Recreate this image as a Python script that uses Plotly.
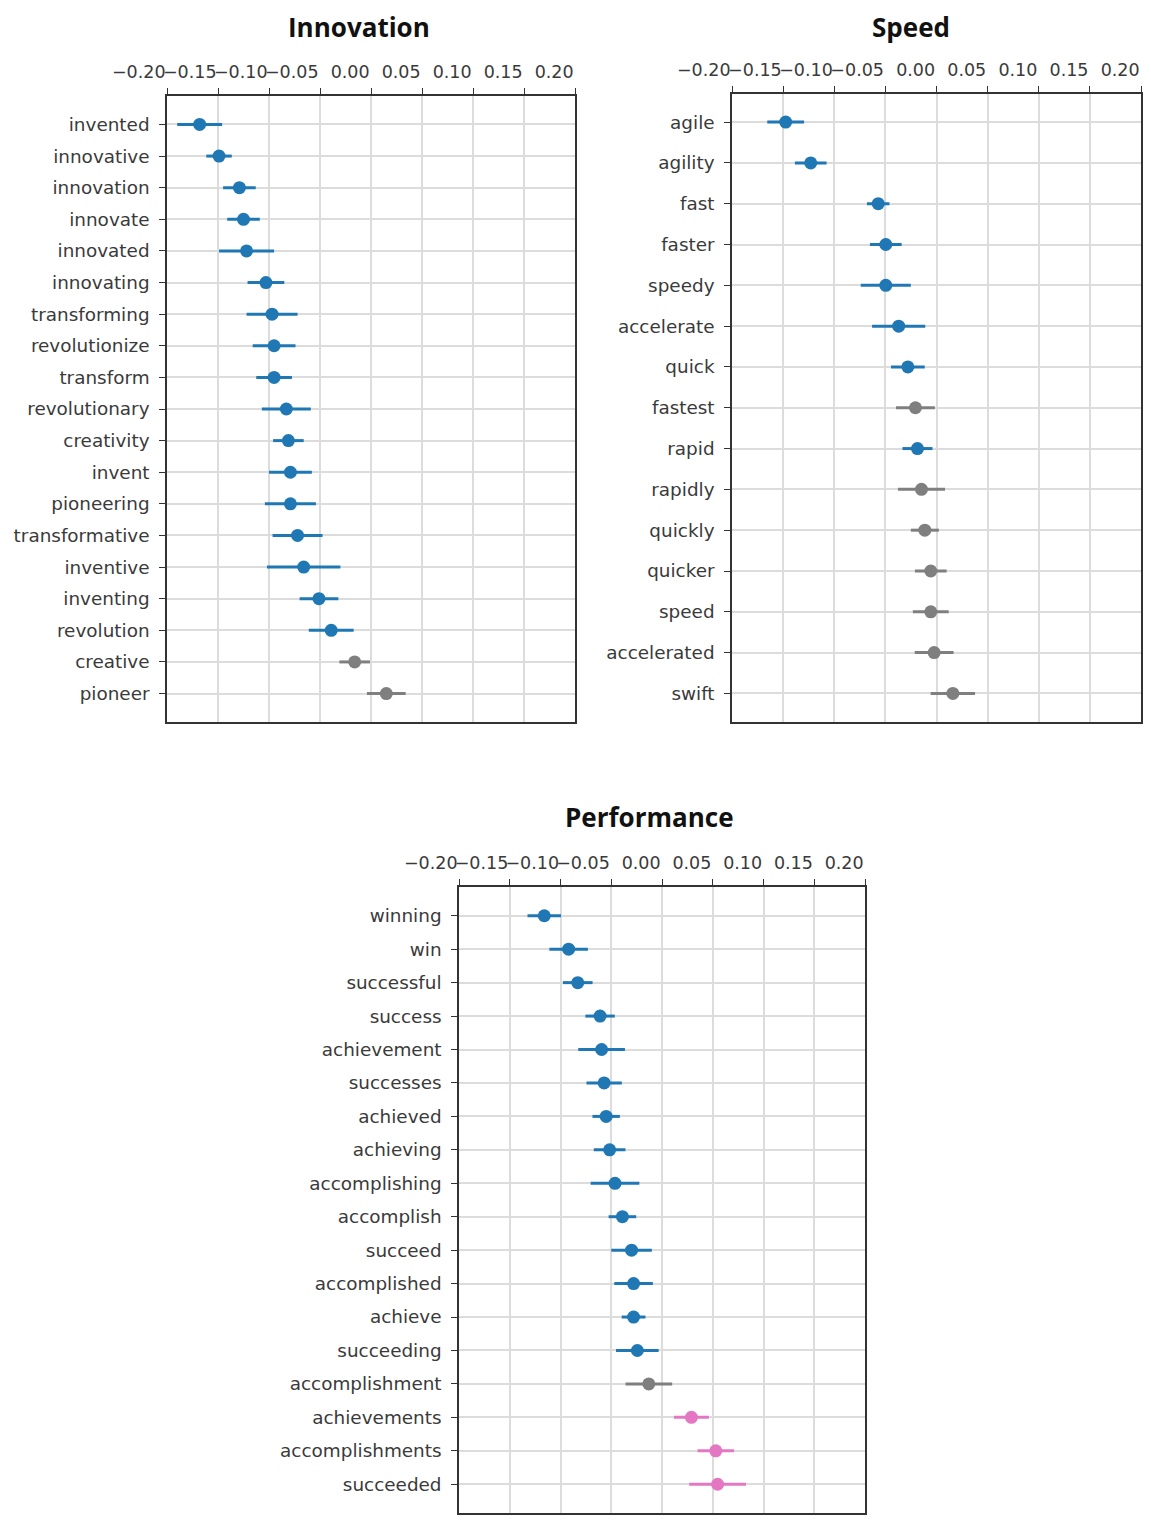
import plotly.graph_objects as go

# ---- data -------------------------------------------------------------
innovation_words = ["invented", "innovative", "innovation", "innovate", "innovated",
                    "innovating", "transforming", "revolutionize", "transform",
                    "revolutionary", "creativity", "invent", "pioneering",
                    "transformative", "inventive", "inventing", "revolution",
                    "creative", "pioneer"]
innovation_mean = [-0.168, -0.149, -0.129, -0.125, -0.122, -0.103, -0.097, -0.095,
                   -0.095, -0.083, -0.081, -0.079, -0.079, -0.072, -0.066, -0.051,
                   -0.039, -0.016, 0.015]
innovation_err = [0.022, 0.0125, 0.016, 0.016, 0.027, 0.018, 0.025, 0.021, 0.0175,
                  0.024, 0.015, 0.021, 0.025, 0.0245, 0.036, 0.019, 0.022, 0.015,
                  0.019]
innovation_sig = ["neg"] * 17 + ["ns"] * 2

speed_words = ["agile", "agility", "fast", "faster", "speedy", "accelerate", "quick",
               "fastest", "rapid", "rapidly", "quickly", "quicker", "speed",
               "accelerated", "swift"]
speed_mean = [-0.1475, -0.123, -0.057, -0.0496, -0.0496, -0.037, -0.028, -0.0206,
              -0.0186, -0.0147, -0.0114, -0.0056, -0.0056, -0.0023, 0.016]
speed_err = [0.018, 0.0155, 0.011, 0.0155, 0.0245, 0.026, 0.0165, 0.019, 0.0147,
             0.023, 0.0137, 0.0155, 0.0175, 0.019, 0.0217]
speed_sig = ["neg"] * 7 + ["ns", "neg"] + ["ns"] * 6

performance_words = ["winning", "win", "successful", "success", "achievement",
                     "successes", "achieved", "achieving", "accomplishing",
                     "accomplish", "succeed", "accomplished", "achieve",
                     "succeeding", "accomplishment", "achievements",
                     "accomplishments", "succeeded"]
performance_mean = [-0.116, -0.092, -0.083, -0.061, -0.0595, -0.057, -0.055, -0.0516,
                    -0.0463, -0.039, -0.030, -0.028, -0.028, -0.0243, -0.013, 0.029,
                    0.053, 0.0548]
performance_err = [0.0165, 0.019, 0.0146, 0.0145, 0.023, 0.0174, 0.0135, 0.0156,
                   0.024, 0.0136, 0.020, 0.019, 0.0117, 0.021, 0.023, 0.0172, 0.018,
                   0.028]
performance_sig = ["neg"] * 14 + ["ns"] + ["pos"] * 3

x_tickvals = [-0.20, -0.15, -0.10, -0.05, 0.00, 0.05, 0.10, 0.15, 0.20]

SIG_COLORS = {"neg": "#1f77b4", "ns": "#7f7f7f", "pos": "#e377c2"}

W, H = 1151, 1522

# panel boxes in pixels: (left, right, top, bottom), vertical row padding,
# and title centre (x, y) in pixels
panels = [
    ("Innovation", innovation_words, innovation_mean, innovation_err, innovation_sig,
     (167, 575, 96, 722), 0.9, (359, 27)),
    ("Speed", speed_words, speed_mean, speed_err, speed_sig,
     (732, 1141, 93.5, 722), 0.7, (911, 27)),
    ("Performance", performance_words, performance_mean, performance_err, performance_sig,
     (459, 865, 887, 1513), 0.86, (649, 817)),
]

TEXT = "#3a3a3a"
fig = go.Figure()
annotations = []

for i, (title, words, mean, err, sig, box, pad, tpos) in enumerate(panels, start=1):
    left, right, top, bottom = box
    xa = "x" if i == 1 else f"x{i}"
    ya = "y" if i == 1 else f"y{i}"
    for grp in ["neg", "ns", "pos"]:
        idx = [k for k, s in enumerate(sig) if s == grp]
        if not idx:
            continue
        fig.add_trace(go.Scatter(
            x=[mean[k] for k in idx],
            y=[k for k in idx],
            mode="markers",
            marker=dict(size=13, color=SIG_COLORS[grp]),
            error_x=dict(type="data", array=[err[k] for k in idx],
                         color=SIG_COLORS[grp], thickness=3, width=0),
            xaxis=xa, yaxis=ya, showlegend=False, hoverinfo="skip",
        ))
    n = len(words)
    axis_common = dict(showline=True, mirror=True, linecolor="#333333", linewidth=1.5,
                       showgrid=True, gridcolor="#dcdcdc", gridwidth=2,
                       zeroline=False, ticks="outside", ticklen=6, tickwidth=1.3,
                       tickcolor="#333333", automargin=False)
    xkey = "xaxis" if i == 1 else f"xaxis{i}"
    ykey = "yaxis" if i == 1 else f"yaxis{i}"
    fig.update_layout({
        xkey: dict(axis_common, domain=[left / W, right / W], range=[-0.20, 0.20],
                   side="top", tickvals=x_tickvals, tickangle=0,
                   ticktext=[f"{v:.2f}".replace("-", "\u2212") for v in x_tickvals],
                   ticklabelposition="outside left", ticklabelstandoff=9,
                   tickfont=dict(family="DejaVu Sans", size=17.5, color=TEXT),
                   anchor=ya),
        ykey: dict(axis_common, domain=[1 - bottom / H, 1 - top / H],
                   range=[n - 1 + pad, -pad], tickvals=list(range(n)),
                   ticktext=words, ticklabelstandoff=6,
                   tickfont=dict(family="DejaVu Sans", size=18.4, color=TEXT),
                   anchor=xa),
    })
    annotations.append(dict(
        text=f"<b>{title}</b>", xref="paper", yref="paper",
        x=tpos[0] / W, y=1 - tpos[1] / H,
        xanchor="center", yanchor="middle", showarrow=False,
        font=dict(family="Open Sans", size=26, color="#111111"),
    ))

fig.update_layout(
    width=W, height=H, margin=dict(l=0, r=0, t=0, b=0, autoexpand=False),
    paper_bgcolor="white", plot_bgcolor="white",
    annotations=annotations, showlegend=False,
)

fig.write_html("out.html")
